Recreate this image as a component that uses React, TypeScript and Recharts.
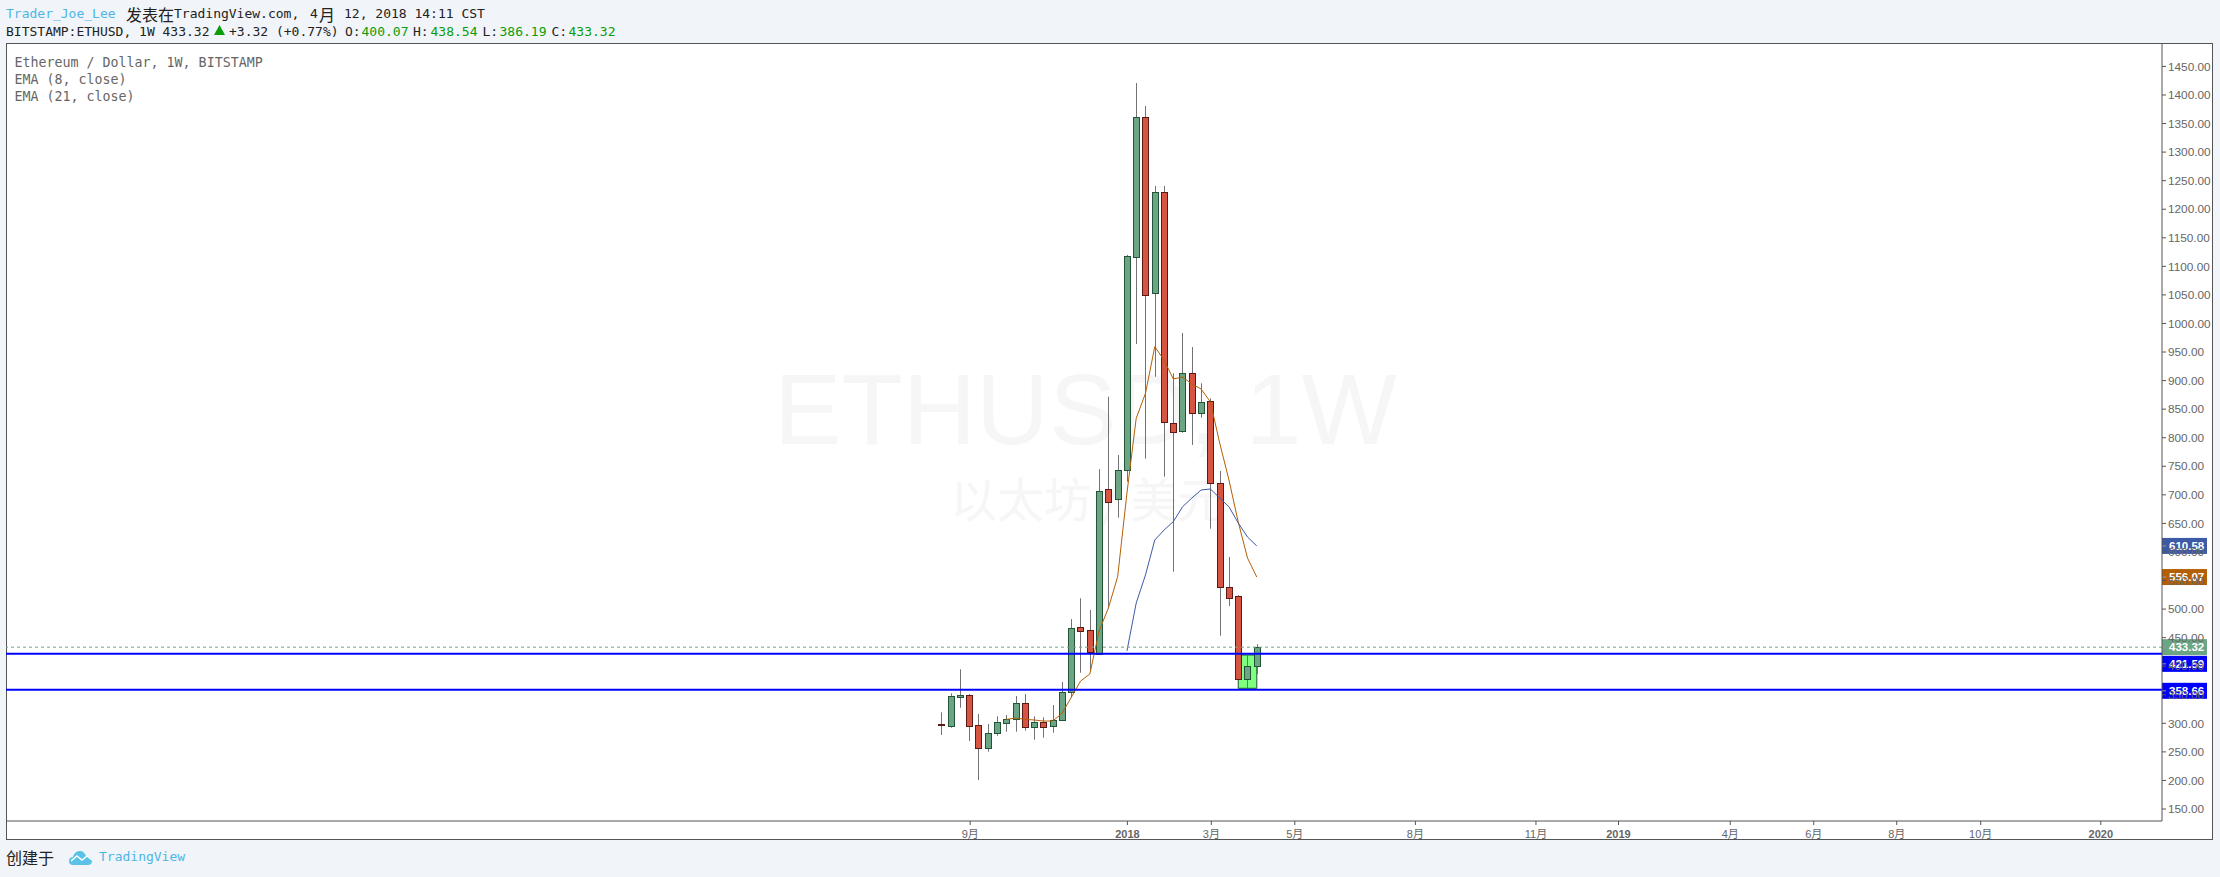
import { Bar, ComposedChart, Line, ReferenceArea, ReferenceLine, XAxis, YAxis } from "recharts";

const opens = [298.6, 295.8, 346.6, 349, 296.5, 256.3, 282.5, 300, 307, 335, 293, 301.8, 294.8, 305.3, 354.3, 468, 462.9, 420.8, 709.7, 692.2, 743, 1116.9, 1361, 1052.8, 1229.7, 825.2, 811.2, 912.8, 842.8, 863.8, 720.2, 538.1, 522.4, 377, 400.07];
const highs = [319.3, 352.6, 394.6, 351.3, 316.3, 298.8, 312.3, 314.6, 347.8, 351.3, 312.3, 310.5, 332, 372.3, 482.6, 518.9, 498.4, 745, 871.8, 769.7, 1120, 1421, 1380.7, 1240.7, 1240.7, 912.8, 983.3, 958.8, 895.3, 869, 741.7, 591.2, 524.6, 419.6, 438.54];
const lows = [279.6, 292.3, 327.3, 269, 200.8, 250.3, 278.3, 285.3, 285.3, 287, 271.3, 274.8, 283.6, 305.3, 344.9, 388.6, 392, 420.8, 501.4, 660, 723, 964, 763.3, 906.8, 731.8, 565.4, 808.8, 787.3, 835, 640.7, 453.4, 505.4, 377, 361.8, 386.19];
const closes = [298, 347.3, 349, 295.8, 256.3, 282.5, 301.8, 307, 335, 293, 301.8, 293, 305.3, 354.3, 466.4, 462, 424.3, 706.7, 686.9, 743, 1117.6, 1361, 1049.3, 1229.7, 827, 809.5, 912.8, 842.8, 862, 720.2, 538.1, 519.9, 377, 400.4, 433.32];
const ema8 = [null, null, null, null, null, null, null, 306.7, 309.3, 307, 305.8, 304, 304, 317.5, 345.6, 374, 386.3, 461.6, 501.9, 556.7, 703.2, 834, 877.8, 959.3, 936, 902.8, 906.3, 894, 885.3, 862.5, 790.7, 726, 652.4, 589.4, 556.07];
const ema21 = [null, null, null, null, null, null, null, null, null, null, null, null, null, null, null, null, null, null, null, null, 426.6, 510.6, 559.7, 620.9, 638.4, 653, 679.2, 694.5, 708.5, 710.2, 694.5, 679.2, 650.7, 626.2, 610.58];

const priceTicks = [150, 200, 250, 300, 350, 400, 450, 500, 550, 600, 650, 700, 750, 800, 850, 900, 950, 1000, 1050, 1100, 1150, 1200, 1250, 1300, 1350, 1400, 1450];
const timeTicks = [3.1, 20.05, 29.1, 38.1, 51.1, 64.1, 73, 85.05, 94.05, 103, 112.05, 125];
const timeLabels = ["9月", "2018", "3月", "5月", "8月", "11月", "2019", "4月", "6月", "8月", "10月", "2020"];

const supportLevels = [421.59, 358.66];
const tagValues = [610.58, 556.07, 433.32, 421.59, 358.66];
const tagColors = ["#3d5aa6", "#b45f06", "#6ba583", "#0000ff", "#0000ff"];
const tagShifts = [0, 0, 0, 10, 1];

const rows = opens.map((open, i) => ({
  i,
  open,
  close: closes[i],
  range: [lows[i], highs[i]],
  ema8: ema8[i],
  ema21: ema21[i],
}));

const MONO = "'DejaVu Sans Mono', monospace";
const CJK = "'Noto Sans CJK SC', sans-serif";
const ARIAL = "'Liberation Sans', Arial, sans-serif";

const Mono = ({ x, y, color = "#222", size = 13, children }: any) => (
  <div
    style={{
      position: "absolute",
      left: x,
      top: y,
      fontFamily: MONO,
      fontSize: size,
      lineHeight: "16px",
      color,
      whiteSpace: "pre",
    }}
  >
    {children}
  </div>
);

const Cjk = ({ x, y, size = 16, color = "#222", children }: any) => (
  <div
    style={{
      position: "absolute",
      left: x,
      top: y,
      fontFamily: CJK,
      fontSize: size,
      lineHeight: "16px",
      color,
      whiteSpace: "pre",
    }}
  >
    {children}
  </div>
);

// candle body and wick, both derived from the bar's low-high span
const Candle = (props: any) => {
  const { x, y, width, height, payload } = props;
  const [low, high] = payload.range;
  const perValue = height / (high - low);
  const at = (v: number) => y + (high - v) * perValue;
  const up = payload.close >= payload.open;
  const cx = Math.floor(x + width / 2) + 0.5;
  const top = Math.round(at(Math.max(payload.open, payload.close))) + 0.5;
  const bottom = Math.round(at(Math.min(payload.open, payload.close))) + 0.5;
  return (
    <g>
      <line x1={cx} x2={cx} y1={y} y2={y + height} stroke="#737375" />
      <rect
        x={cx - 3}
        y={top}
        width={6}
        height={Math.max(bottom - top, 1)}
        fill={up ? "#6ba583" : "#d75442"}
        stroke={up ? "#225437" : "#5b1a13"}
      />
    </g>
  );
};

const PriceTag = ({ viewBox, index }: any) => {
  const right = viewBox.x + viewBox.width;
  const cy = viewBox.y + tagShifts[index];
  return (
    <g>
      <rect x={right} y={cy - 8} width={45} height={16} fill={tagColors[index]} />
      <line x1={right} x2={right + 4} y1={cy} y2={cy} stroke="#999" />
      <text
        x={right + 7}
        y={cy + 4}
        fill="#fff"
        fontFamily={ARIAL}
        fontSize={11.5}
        fontWeight="bold"
      >
        {tagValues[index].toFixed(2)}
      </text>
    </g>
  );
};

const TimeTick = ({ x, y, index }: any) => {
  const label = timeLabels[index];
  const isYear = label.length === 4;
  return (
    <text
      x={x}
      y={y + 11}
      textAnchor="middle"
      fill="#666"
      fontFamily={`'Liberation Sans', ${CJK}`}
      fontSize={11}
      fontWeight={isYear ? "bold" : "normal"}
    >
      {label}
    </text>
  );
};

export default function App() {
  return (
    <div style={{ position: "absolute", left: 0, top: 0, width: 2220, height: 877, background: "#f1f4f8", overflow: "hidden" }}>
      <Mono x={6} y={6} color="#4db6e6">Trader_Joe_Lee</Mono>
      <Cjk x={126} y={6}>发表在</Cjk>
      <Mono x={174} y={6}>TradingView.com,</Mono>
      <Mono x={310} y={6}>4</Mono>
      <Cjk x={319} y={6}>月</Cjk>
      <Mono x={344} y={6}>12, 2018 14:11 CST</Mono>

      <Mono x={6} y={24}>BITSTAMP:ETHUSD, 1W 433.32</Mono>
      <svg style={{ position: "absolute", left: 214, top: 25 }} width={11} height={10}>
        <polygon points="5.5,0 11,10 0,10" fill="#0a9d0a" />
      </svg>
      <Mono x={229} y={24}>+3.32 (+0.77%)</Mono>
      <Mono x={345} y={24}>O:</Mono>
      <Mono x={361.5} y={24} color="#0a9d0a">400.07</Mono>
      <Mono x={413} y={24}>H:</Mono>
      <Mono x={430.5} y={24} color="#0a9d0a">438.54</Mono>
      <Mono x={482.5} y={24}>L:</Mono>
      <Mono x={499.5} y={24} color="#0a9d0a">386.19</Mono>
      <Mono x={551.5} y={24}>C:</Mono>
      <Mono x={568.5} y={24} color="#0a9d0a">433.32</Mono>

      <div style={{ position: "absolute", left: 6, top: 43, width: 2207, height: 797, background: "#fff", boxSizing: "border-box", border: "1px solid #555" }} />

      <div style={{ position: "absolute", left: 774, top: 349, fontFamily: ARIAL, fontSize: 101, lineHeight: "120px", color: "#f6f6f6", whiteSpace: "pre" }}>
        ETHUSD, 1W
      </div>
      <div style={{ position: "absolute", left: 950, top: 465, fontFamily: CJK, fontSize: 47, lineHeight: "64px", color: "#f6f6f6", whiteSpace: "pre" }}>
        以太坊 / 美元
      </div>

      <Mono x={14.5} y={55} size={13.3} color="#666">Ethereum / Dollar, 1W, BITSTAMP</Mono>
      <Mono x={14.5} y={72} size={13.3} color="#666">EMA (8, close)</Mono>
      <Mono x={14.5} y={89} size={13.3} color="#666">EMA (21, close)</Mono>

      <div style={{ position: "absolute", left: 0, top: 0 }}>
        <ComposedChart
          width={2220}
          height={877}
          data={rows}
          margin={{ top: 43, left: 6, right: 7, bottom: 37 }}
        >
          <XAxis
            type="number"
            dataKey="i"
            domain={[-100.86, 131.6]}
            allowDataOverflow
            ticks={timeTicks}
            interval={0}
            height={19}
            stroke="#555"
            tickSize={4}
            tick={<TimeTick />}
          />
          <YAxis
            orientation="right"
            type="number"
            domain={[129, 1491]}
            allowDataOverflow
            ticks={priceTicks}
            interval={0}
            width={51}
            stroke="#555"
            tickSize={4}
            tickFormatter={(v: number) => v.toFixed(2)}
            tick={{ fill: "#666", fontSize: 11.8, fontFamily: ARIAL }}
          />
          <Line dataKey="ema8" stroke="#b45f06" strokeWidth={1} dot={false} isAnimationActive={false} />
          <Line dataKey="ema21" stroke="#3d5aa6" strokeWidth={1} dot={false} isAnimationActive={false} />
          <Bar dataKey="range" barSize={6} isAnimationActive={false} shape={<Candle />} />
          <ReferenceArea
            x1={32}
            x2={34}
            y1={361.3}
            y2={419.6}
            fill="#00ff00"
            fillOpacity={0.5}
            stroke="#1c5a2c"
            strokeWidth={1}
          />
          <ReferenceLine y={closes[closes.length - 1]} stroke="#6ba583" strokeDasharray="3 3" />
          {supportLevels.map((level) => (
            <ReferenceLine key={level} y={level} stroke="#0000ff" strokeWidth={2} />
          ))}
          {tagValues.map((value, index) => (
            <ReferenceLine
              key={`tag-${value}`}
              y={value}
              stroke="none"
              label={(p: any) => <PriceTag viewBox={p.viewBox} index={index} />}
            />
          ))}
        </ComposedChart>
      </div>

      <Cjk x={6} y={849}>创建于</Cjk>
      <svg style={{ position: "absolute", left: 68, top: 850 }} width={25} height={16} viewBox="0 0 25 16">
        <path d="M1 11 C1 8 3 7 5 7 C6 3 9 1 12 1 C15 1 17 3 18 6 C21 6 24 8 24 11 C24 14 22 15 20 15 L5 15 C2 15 1 13 1 11 Z" fill="#5bc2e7" />
        <polyline points="3,11 9,6 14,10 19,6 24,10" fill="none" stroke="#fff" strokeWidth={1.5} />
      </svg>
      <Mono x={99} y={849} color="#4db6e6">TradingView</Mono>
    </div>
  );
}
